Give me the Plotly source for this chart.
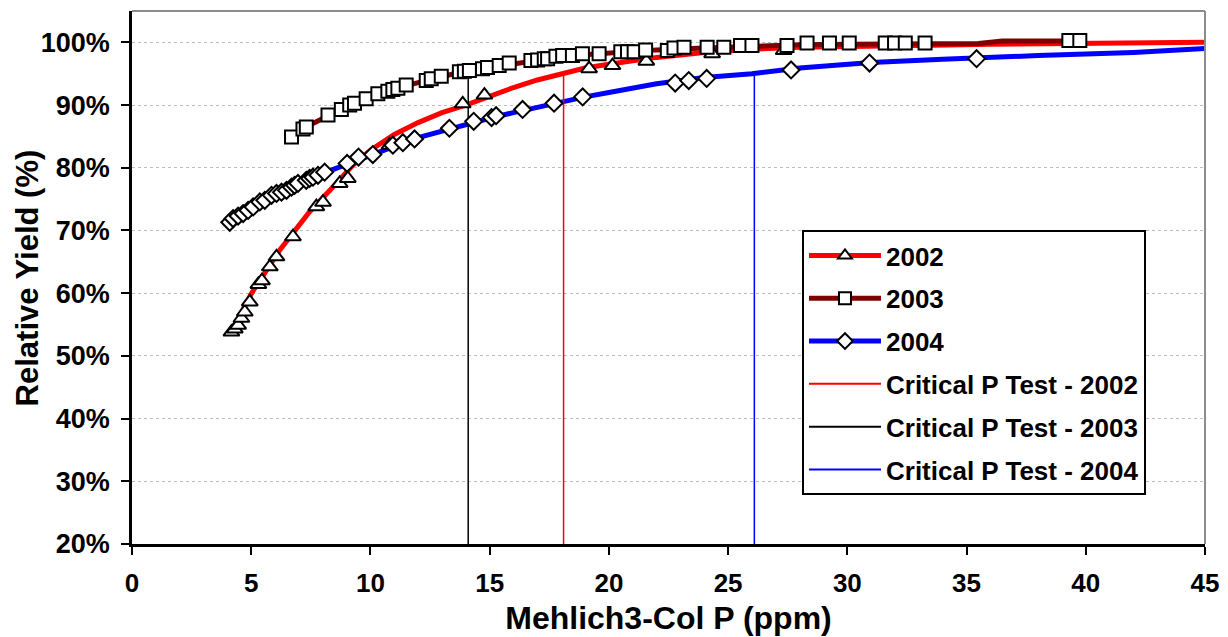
import plotly.graph_objects as go

# ---- observed data points (Mehlich3-Col P in ppm, relative yield in %) ----
p2002 = [4.17, 4.31, 4.45, 4.59, 4.73, 4.94, 5.3, 5.45, 5.78, 6.06, 6.75, 7.73, 8.01,
         8.71, 9.05, 10.8, 13.87, 14.78, 19.17, 20.15, 21.57, 24.33, 27.33]
y2002 = [53.8, 54.3, 54.9, 56.0, 57.0, 58.6, 61.4, 62.0, 64.2, 65.8, 69.0, 73.8, 74.5,
         77.5, 78.3, 83.6, 90.2, 91.6, 95.8, 96.3, 97.0, 98.2, 98.7]

p2003 = [6.69, 7.17, 7.31, 8.22, 8.78, 9.13, 9.33, 9.82, 10.31, 10.73, 10.94, 11.15,
         11.5, 12.34, 12.55, 12.97, 13.73, 13.94, 14.15, 14.7, 14.91, 15.4, 15.82,
         16.73, 17.01, 17.29, 17.43, 17.78, 18.06, 18.47, 18.89, 19.59, 20.5, 20.78,
         21.06, 21.54, 22.45, 22.73, 23.15, 24.12, 24.82, 25.52, 26.0, 27.47, 28.31,
         29.25, 30.08, 31.59, 31.98, 32.43, 33.26, 39.29, 39.75]
y2003 = [84.9, 86.2, 86.5, 88.4, 89.3, 90.0, 90.3, 91.0, 91.8, 92.2, 92.5, 92.7,
         93.2, 93.9, 94.2, 94.6, 95.3, 95.4, 95.5, 95.8, 96.0, 96.3, 96.7,
         97.1, 97.2, 97.4, 97.4, 97.8, 97.9, 97.9, 98.2, 98.2, 98.5, 98.5,
         98.5, 98.8, 98.7, 99.1, 99.2, 99.2, 99.2, 99.5, 99.5, 99.5, 99.9,
         99.9, 99.9, 99.9, 99.9, 99.9, 99.9, 100.3, 100.3]

p2004 = [4.1, 4.24, 4.45, 4.66, 4.87, 5.08, 5.36, 5.57, 5.85, 6.06, 6.27, 6.48, 6.69,
         6.82, 6.96, 7.31, 7.45, 7.59, 7.8, 8.08, 9.02, 9.5, 10.1, 10.94, 11.36, 11.85,
         13.31, 14.33, 15.08, 15.27, 16.38, 17.7, 18.9, 22.78, 23.35, 24.1, 27.64,
         30.93, 35.42]
y2004 = [71.3, 71.9, 72.3, 72.7, 73.2, 73.75, 74.55, 74.8, 75.6, 75.9, 76.1, 76.4, 76.9,
         77.2, 77.5, 78.0, 78.3, 78.5, 78.8, 79.3, 80.7, 81.7, 82.1, 83.6, 84.0, 84.6,
         86.3, 87.4, 88.0, 88.3, 89.3, 90.3, 91.3, 93.5, 93.9, 94.25, 95.6,
         96.7, 97.4]

# ---- fitted response curves ----
fit2002_x = [4.17, 5.0, 6.2, 6.75, 7.45, 8.3, 9.26, 10, 11, 12, 13, 14, 15, 16, 17, 18,
             19, 20, 21, 22, 24, 26, 28, 30, 33, 36, 40, 45]
fit2002_y = [53.8, 59.9, 66.9, 69.6, 73.0, 76.4, 80.4, 82.8, 85.3, 87.2, 88.8, 90.0,
             91.5, 92.8, 94.0, 95.0, 95.9, 96.5, 97.1, 97.6, 98.4, 98.9, 99.2, 99.4,
             99.5, 99.7, 99.8, 100.0]

fit2003_x = [6.69, 7.5, 8.5, 9.5, 10.5, 11.5, 12.5, 13.5, 14.5, 15.5, 16.5, 17.5, 18.5,
             19.5, 20.5, 22, 24, 26, 28, 30, 34, 35.5, 36.5, 39.75]
fit2003_y = [85.0, 86.9, 88.8, 90.4, 91.9, 93.1, 94.1, 95.0, 95.7, 96.3, 96.9, 97.4,
             97.9, 98.2, 98.5, 98.8, 99.1, 99.4, 99.6, 99.7, 99.7, 99.8, 100.2, 100.2]

fit2004_x = [4.1, 5, 6, 7, 8, 9, 10, 11, 12, 13, 14, 15, 16, 17, 18, 19, 20, 22, 24,
             26, 28, 31, 34, 36, 38, 42, 45]
fit2004_y = [71.3, 73.6, 75.8, 77.6, 79.1, 80.6, 82.0, 83.4, 84.8, 85.9, 87.0, 87.9,
             88.8, 89.7, 90.6, 91.3, 92.0, 93.4, 94.4, 95.0, 95.9, 96.8, 97.3, 97.7,
             97.9, 98.4, 99.0]

# ---- critical soil-test P (ppm) at 95 % relative yield ----
crit_years = ["2002", "2003", "2004"]
crit_p = [18.1, 14.1, 26.1]
crit_level = 95.0

series = [
    ("2002", "#ff0000", "triangle-up", p2002, y2002, fit2002_x, fit2002_y),
    ("2003", "#800000", "square", p2003, y2003, fit2003_x, fit2003_y),
    ("2004", "#0000ff", "diamond", p2004, y2004, fit2004_x, fit2004_y),
]
crit_colors = {"2002": "#ff0000", "2003": "#000000", "2004": "#0000ff"}

FONT = "Liberation Sans, Arial, sans-serif"
fig = go.Figure()

# response curves
for name, col, sym, px, py, fx, fy in series:
    fig.add_trace(go.Scatter(x=fx, y=fy, mode="lines", line=dict(color=col, width=5),
                             showlegend=False, hoverinfo="skip"))

# critical P lines
for yr, cp in zip(crit_years, crit_p):
    fig.add_trace(go.Scatter(x=[cp, cp], y=[20, crit_level], mode="lines",
                             line=dict(color=crit_colors[yr], width=1.5),
                             showlegend=False, hoverinfo="skip"))

# observed points: white-filled markers with black outline
marker_sizes = {"2002": 14, "2003": 13, "2004": 13}
for name, col, sym, px, py, fx, fy in series:
    fig.add_trace(go.Scatter(x=px, y=py, mode="markers",
                             marker=dict(symbol=sym, size=marker_sizes[name], color="white",
                                         line=dict(color="black", width=2)),
                             showlegend=False))

# legend entries
for i, (name, col, sym, px, py, fx, fy) in enumerate(series):
    fig.add_trace(go.Scatter(x=[None], y=[None], mode="lines+markers", name=name,
                             legendgroup=f"g{i}",
                             line=dict(color=col, width=5),
                             marker=dict(symbol=sym, size=12,
                                         color="white", line=dict(color="black", width=2))))
for j, (yr, cp) in enumerate(zip(crit_years, crit_p)):
    fig.add_trace(go.Scatter(x=[None], y=[None], mode="lines",
                             name=f"Critical P Test - {yr}", legendgroup=f"c{j}",
                             line=dict(color=crit_colors[yr], width=2)))

# gray frame on top and right
fig.add_shape(type="line", xref="paper", yref="paper", x0=0, x1=1, y0=1, y1=1,
              line=dict(color="#8c8c8c", width=2))
fig.add_shape(type="line", xref="paper", yref="paper", x0=1, x1=1, y0=0, y1=1,
              line=dict(color="#8c8c8c", width=2))

# y-axis title
fig.add_annotation(text="Relative Yield (%)", textangle=-90, showarrow=False,
                   xref="paper", yref="paper", x=-0.097, y=0.50,
                   xanchor="center", yanchor="middle",
                   font=dict(size=31, family=FONT, color="black", weight="bold"))

fig.update_layout(
    width=1228, height=637,
    margin=dict(l=132, r=23, t=11, b=93),
    paper_bgcolor="white", plot_bgcolor="white",
    font=dict(family=FONT, color="black"),
    legend=dict(
        x=0.6244, y=0.589, xanchor="left", yanchor="top",
        bgcolor="white", bordercolor="black", borderwidth=2,
        font=dict(size=26, family=FONT, color="black", weight="bold"),
        traceorder="grouped", tracegroupgap=6, itemwidth=72,
    ),
    xaxis=dict(
        range=[0, 45], tickmode="linear", tick0=0, dtick=5,
        showgrid=False, zeroline=False, automargin=False,
        showline=True, linecolor="black", linewidth=2.5,
        ticks="outside", ticklen=8, tickwidth=2, tickcolor="black",
        ticklabelstandoff=6,
        tickfont=dict(size=26, family=FONT, weight="bold"),
        title=dict(text="Mehlich3-Col P (ppm)", standoff=10,
                   font=dict(size=32, family=FONT, weight="bold")),
    ),
    yaxis=dict(
        range=[20, 105], tickmode="array",
        tickvals=[20, 30, 40, 50, 60, 70, 80, 90, 100],
        ticktext=["20%", "30%", "40%", "50%", "60%", "70%", "80%", "90%", "100%"],
        showgrid=True, gridcolor="#bdbdbd", griddash="dot", gridwidth=1,
        zeroline=False, automargin=False,
        showline=True, linecolor="black", linewidth=2.5,
        ticks="outside", ticklen=8, tickwidth=2, tickcolor="black",
        ticklabelstandoff=6,
        tickfont=dict(size=27, family=FONT, weight="bold"),
    ),
)

fig.write_html("out.html")
